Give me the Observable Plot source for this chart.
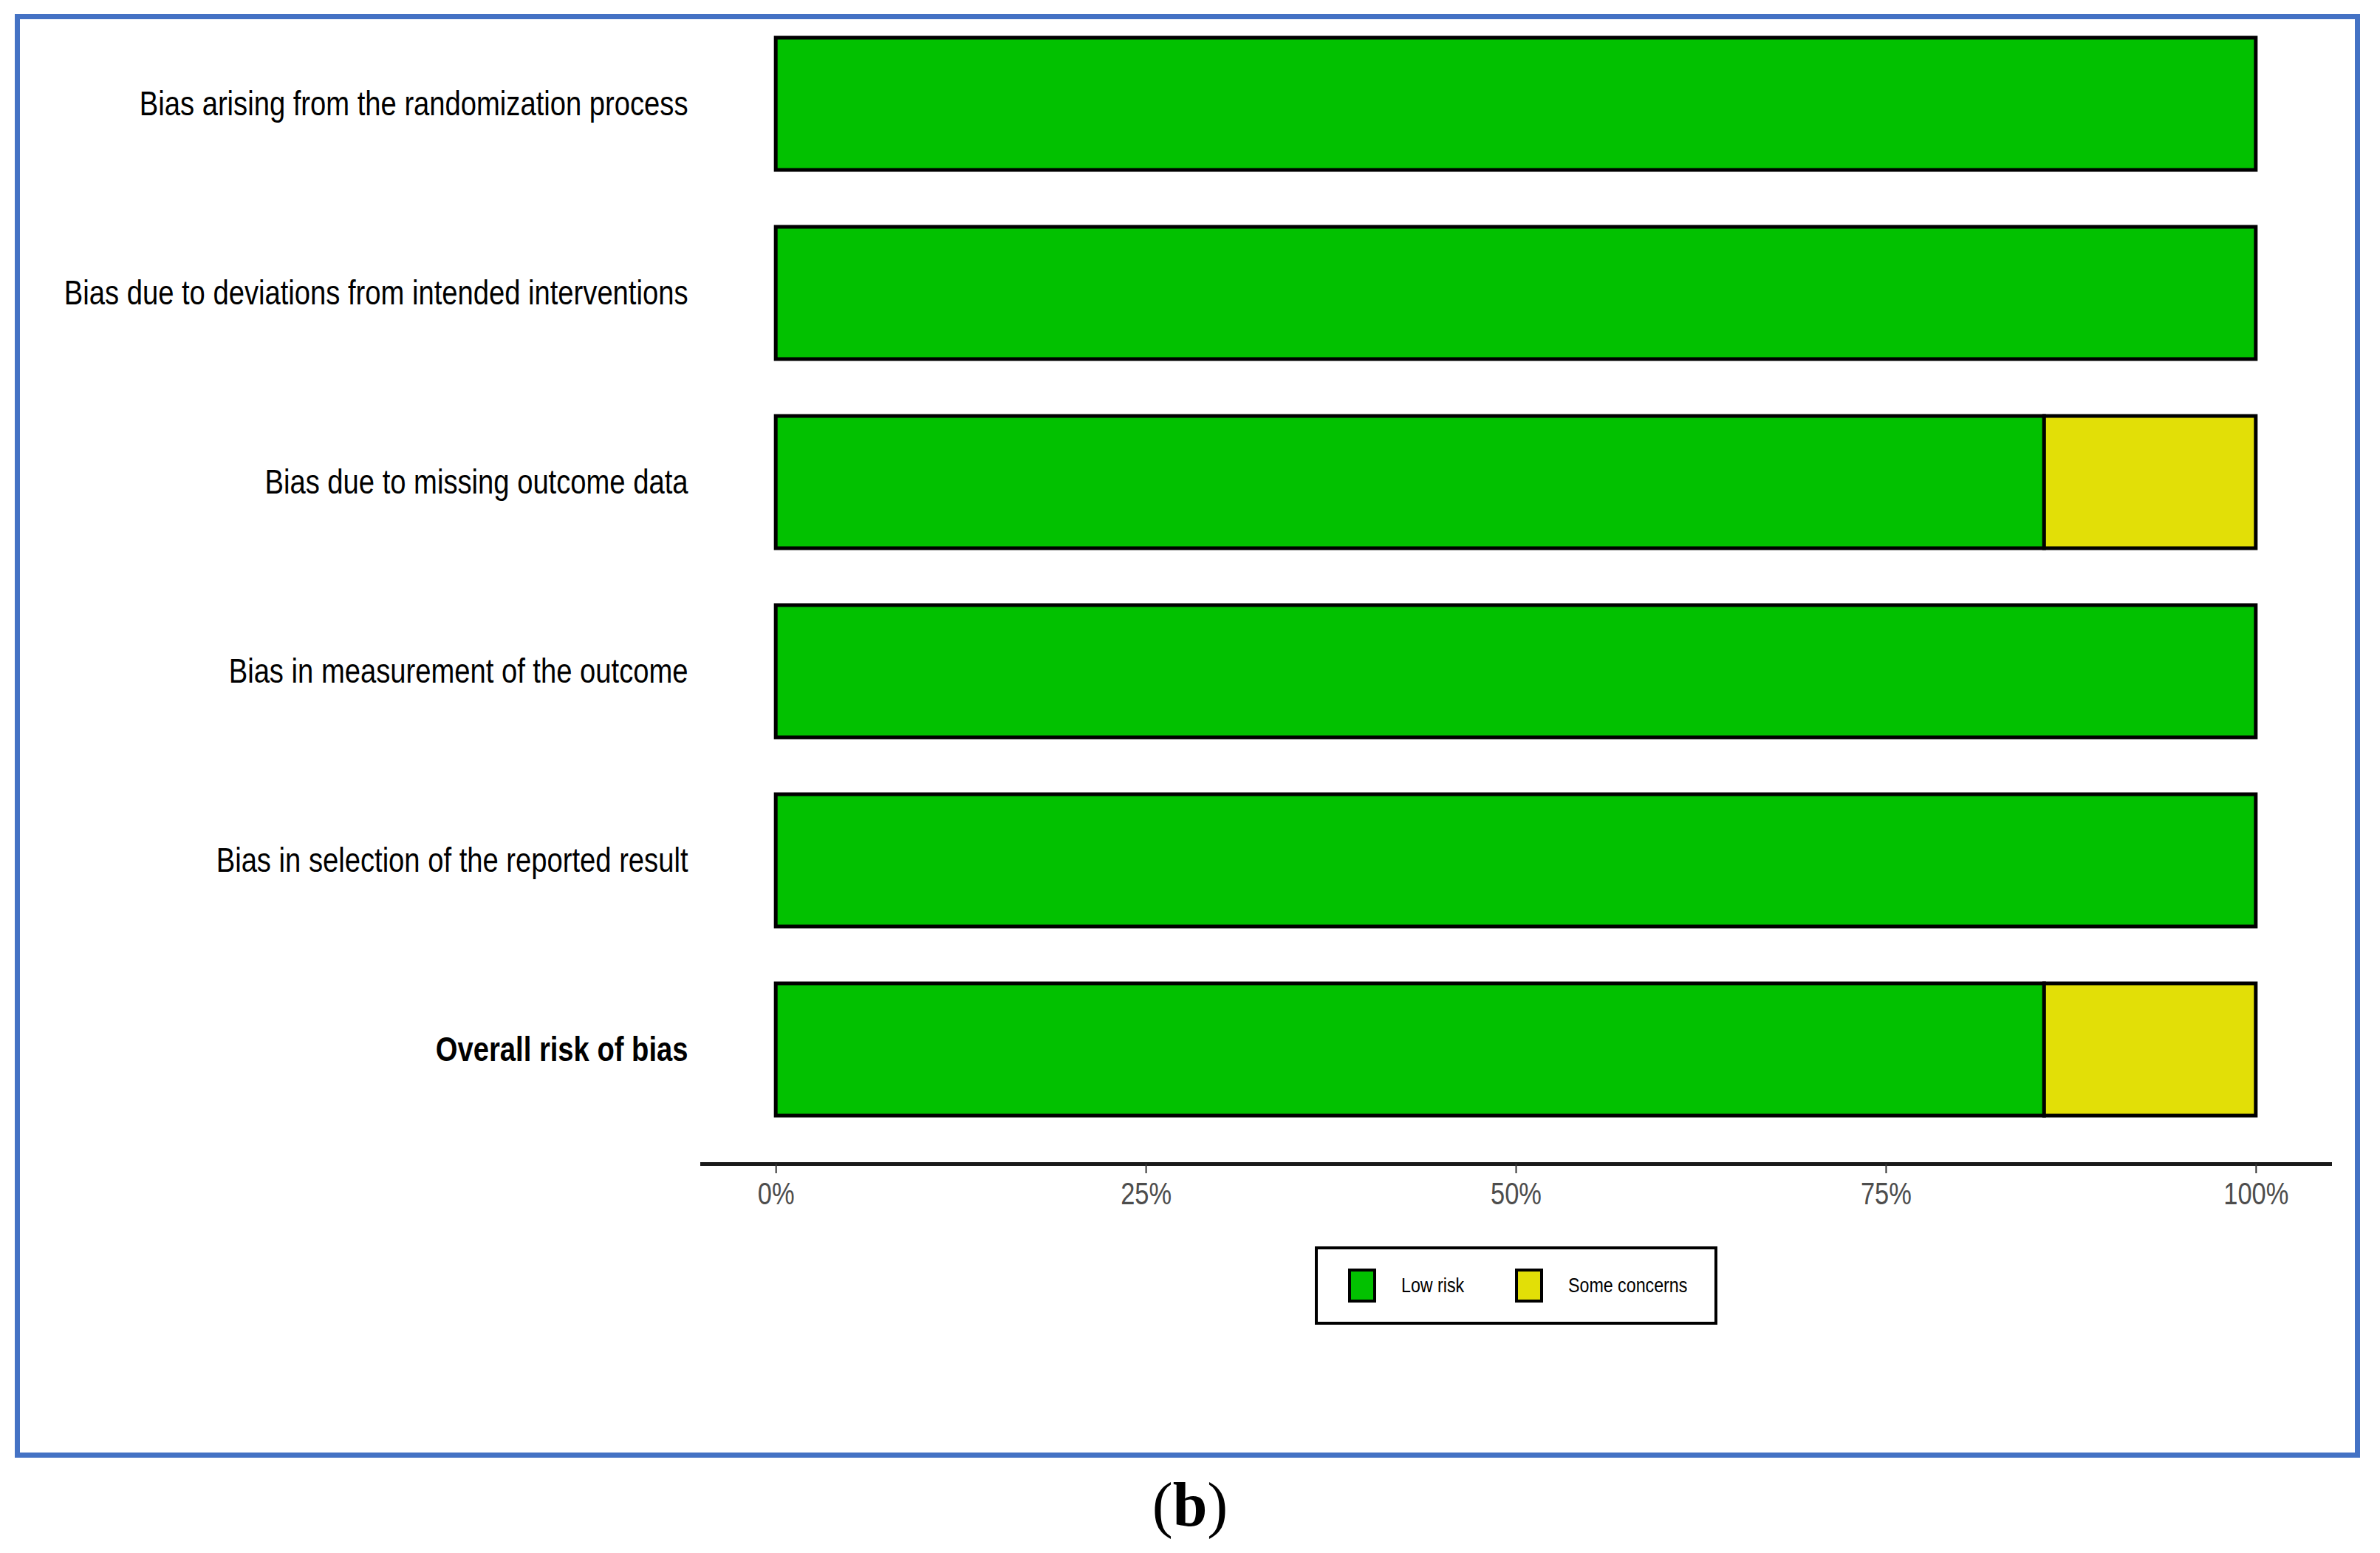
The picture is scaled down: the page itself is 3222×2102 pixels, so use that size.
<!DOCTYPE html>
<html>
<head>
<meta charset="utf-8">
<script src="https://cdn.jsdelivr.net/npm/d3@7"></script>
<script src="https://cdn.jsdelivr.net/npm/@observablehq/plot@0.6"></script>
<style>
  html, body { margin: 0; padding: 0; background: #fff; }
  body { width: 3222px; height: 2102px; position: relative; overflow: hidden; }
  #frame { position: absolute; left: 20px; top: 19px; width: 3175px; height: 1954px; box-sizing: border-box; border: 7px solid #4472C4; }
  #chart { position: absolute; left: 0; top: 0; }
  #legend { position: absolute; left: 1780px; top: 1687px; width: 545px; height: 106px; box-sizing: border-box; border: 4px solid #000; background: #fff; font-family: "Liberation Sans", Arial, sans-serif; font-size: 27px; color: #000; }
  .item { position: absolute; top: 0; height: 98px; display: flex; align-items: center; }
  .txt { transform: scaleX(0.86); transform-origin: left center; white-space: nowrap; }
  .sw { width: 38px; height: 46px; box-sizing: border-box; border: 4px solid #000; }
  #caption { position: absolute; left: 0; width: 3222px; top: 1995px; text-align: center; font-family: "Liberation Serif", "Times New Roman", serif; font-size: 84px; line-height: 84px; color: #000; }
</style>
</head>
<body>
<div id="frame"></div>
<div id="chart"></div>
<div id="legend"></div>
<div id="caption">(<b>b</b>)</div>
<script>
const domains = [
  "Bias arising from the randomization process",
  "Bias due to deviations from intended interventions",
  "Bias due to missing outcome data",
  "Bias in measurement of the outcome",
  "Bias in selection of the reported result",
  "Overall risk of bias"
];
const judgements = ["Low risk", "Some concerns"];
const lowRisk = [100, 100, 85.7, 100, 100, 85.7];
const someConcerns = [0, 0, 14.3, 0, 0, 14.3];
const xTicks = [0, 25, 50, 75, 100];
const colors = ["#02C100", "#E2DF07"];

const rows = [];
domains.forEach((d, i) => {
  [lowRisk[i], someConcerns[i]].forEach((v, j) => {
    if (v > 0) rows.push({domain: d, judgement: judgements[j], value: v});
  });
});

const overall = domains[domains.length - 1];

const chart = Plot.plot({
  width: 3222,
  height: 1660,
  marginLeft: 950,
  marginRight: 68,
  marginTop: 0,
  marginBottom: 85,
  style: {fontFamily: '"Liberation Sans", Arial, sans-serif', background: "transparent", overflow: "visible"},
  x: {domain: [-5, 105], ticks: xTicks},
  y: {domain: domains, range: [9.25, 1551], paddingInner: 0.3, paddingOuter: 0.15},
  color: {domain: judgements, range: colors},
  marks: [
    Plot.barX(rows, Plot.stackX({y: "domain", x: "value", fill: "judgement", stroke: "#000", strokeWidth: 5})),
    Plot.frame({anchor: "bottom", stroke: "#1a1a1a", strokeWidth: 5}),
    Plot.axisX({ticks: xTicks, tickSize: 13, tickPadding: 12, stroke: "#333", strokeWidth: 2, fontSize: 42, fill: "#4d4d4d", tickFormat: d => d + "%", label: null, className: "xax"}),
    Plot.axisY({ticks: domains.filter(d => d !== overall), tickSize: 0, tickPadding: 19, fontSize: 46, fill: "#000", label: null}),
    Plot.axisY({ticks: [overall], tickSize: 0, tickPadding: 19, fontSize: 46, fontWeight: "bold", fill: "#000", label: null})
  ]
});
document.getElementById("chart").appendChild(chart);

// condense the sans text to match the narrow face of the original
chart.querySelectorAll("g[aria-label='y-axis tick label'] text").forEach(t => {
  const len = t.getComputedTextLength();
  t.setAttribute("textLength", len * 0.83);
  t.setAttribute("lengthAdjust", "spacingAndGlyphs");
});
chart.querySelectorAll("g[aria-label='x-axis tick label'] text").forEach(t => {
  const len = t.getComputedTextLength();
  t.setAttribute("textLength", len * 0.82);
  t.setAttribute("lengthAdjust", "spacingAndGlyphs");
});

const legend = document.getElementById("legend");
const swLeft = [41, 267];
const txLeft = [113, 339];
judgements.forEach((j, i) => {
  const s = document.createElement("div");
  s.className = "item";
  s.style.left = swLeft[i] + "px";
  s.innerHTML = `<div class="sw" style="background:${colors[i]}"></div>`;
  legend.appendChild(s);
  const t = document.createElement("div");
  t.className = "item";
  t.style.left = txLeft[i] + "px";
  t.innerHTML = `<span class="txt">${j}</span>`;
  legend.appendChild(t);
});
</script>
</body>
</html>
